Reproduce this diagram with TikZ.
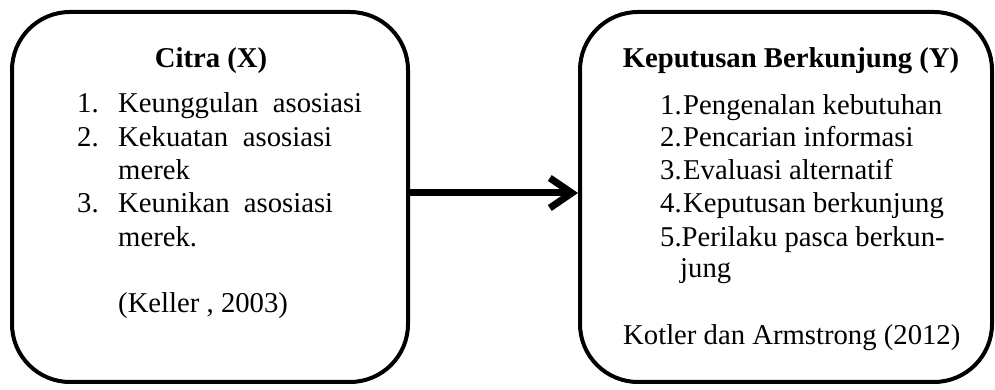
\documentclass[tikz,border=0pt]{standalone}
\usepackage{fontspec}
\setmainfont{Liberation Serif}
\usetikzlibrary{arrows.meta}
\begin{document}
\begin{tikzpicture}[x=1pt,y=1pt,
  box/.style={draw, line width=4pt, rounded corners=58pt, minimum width=#1, minimum height=370pt, inner sep=0pt},
  txt/.style={anchor=base west, inner sep=0pt, font=\fontsize{28.7}{33}\selectfont},
  ttl/.style={anchor=base, inner sep=0pt, font=\fontsize{28.7}{33}\selectfont\bfseries},
  conn/.style={line width=7pt, -{Straight Barb[length=22pt,width=30pt,line width=7pt]}}]
\useasboundingbox (0,0) rectangle (995,390);
\node[box=396pt] (L) at (210,193) {};
\node[box=412pt] (R) at (786,193) {};
\draw[conn] ([yshift=4pt]L.east) -- ([yshift=4pt]R.west);
% left text
\node[ttl] (lt) at (211,322) {Citra (X)};
\node[txt] (l1n) at (77,277) {1.};
\node[txt] (l1) at (118,277) {\makebox[244pt][s]{Keunggulan asosiasi}};
\node[txt] (l2n) at (77,243) {2.};
\node[txt] (l2) at (118,243) {\makebox[214pt][s]{Kekuatan asosiasi}};
\node[txt] (l2b) at (118,210) {merek};
\node[txt] (l3n) at (77,177) {3.};
\node[txt] (l3) at (118,177) {\makebox[215pt][s]{Keunikan asosiasi}};
\node[txt] (l3b) at (118,143) {merek.};
\node[txt] (lk) at (118,77) {(Keller , 2003)};
% right text
\node[ttl] (rt) at (791,322) {Keputusan Berkunjung (Y)};
\node[txt] (r1n) at (660,275) {1.};
\node[txt] (r1) at (683,275) {Pengenalan kebutuhan};
\node[txt] (r2n) at (660,243) {2.};
\node[txt] (r2) at (683,243) {Pencarian informasi};
\node[txt] (r3n) at (660,210) {3.};
\node[txt] (r3) at (683,210) {Evaluasi alternatif};
\node[txt] (r4n) at (660,177) {4.};
\node[txt] (r4) at (683,177) {Keputusan berkunjung};
\node[txt] (r5) at (660,143) {5.Perilaku pasca berkun-};
\node[txt] (r5b) at (680,112) {jung};
\node[txt] (rk) at (623,45) {Kotler dan Armstrong (2012)};
\end{tikzpicture}
\end{document}
